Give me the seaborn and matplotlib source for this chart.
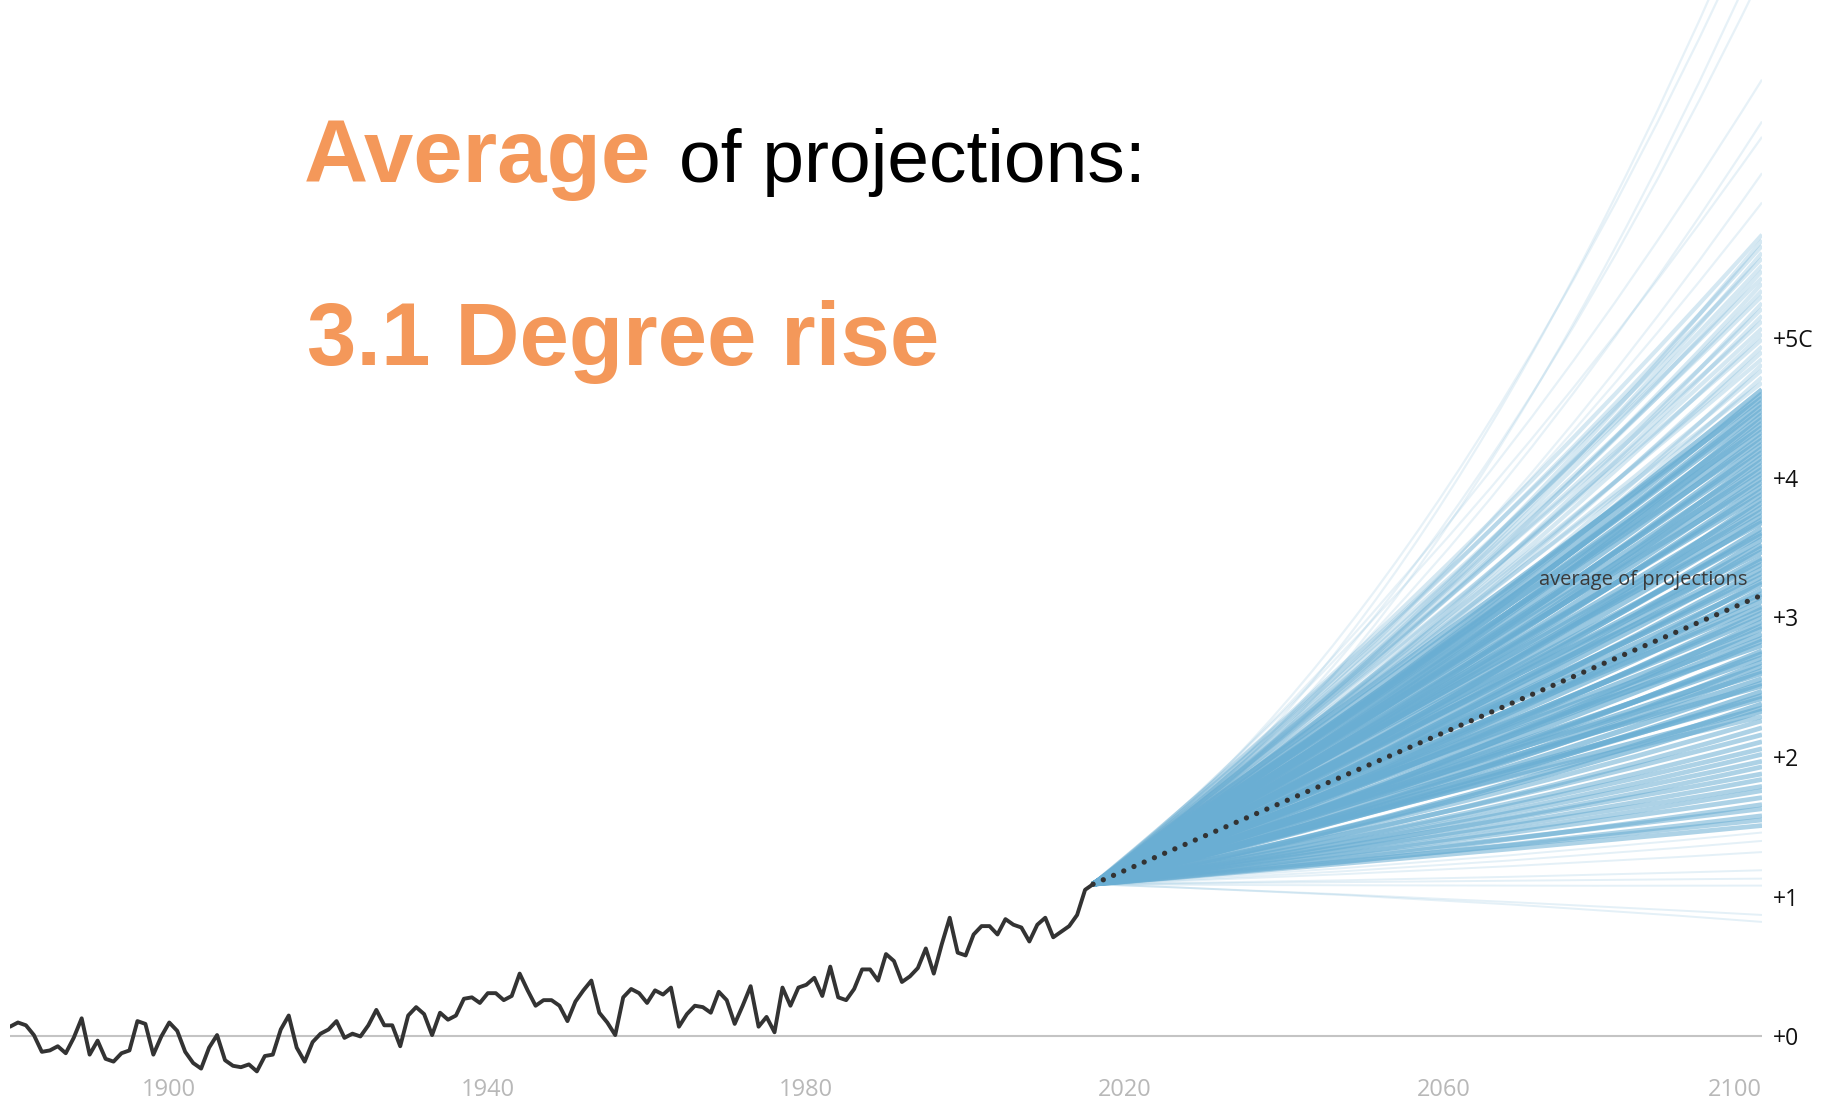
import matplotlib
matplotlib.use("Agg")
import matplotlib.pyplot as plt
from matplotlib.path import Path
from matplotlib.patches import PathPatch
import seaborn as sns

# observed temperature rise, one value a year from 1880 to 2016
hist_years = list(range(1880, 2017))
hist_temp = [
    0.07, 0.10, 0.08, 0.01, -0.11, -0.10, -0.07, -0.12, -0.01, 0.13,
    -0.13, -0.03, -0.16, -0.18, -0.12, -0.10, 0.11, 0.09, -0.13, 0.00,
    0.10, 0.04, -0.11, -0.19, -0.23, -0.08, 0.01, -0.17, -0.21, -0.22,
    -0.20, -0.25, -0.14, -0.13, 0.05, 0.15, -0.08, -0.18, -0.04, 0.02,
    0.05, 0.11, -0.01, 0.02, 0.00, 0.08, 0.19, 0.08, 0.08, -0.07,
    0.15, 0.21, 0.16, 0.01, 0.17, 0.12, 0.15, 0.27, 0.28, 0.24,
    0.31, 0.31, 0.26, 0.29, 0.45, 0.33, 0.22, 0.26, 0.26, 0.22,
    0.11, 0.25, 0.33, 0.40, 0.17, 0.10, 0.01, 0.28, 0.34, 0.31,
    0.24, 0.33, 0.30, 0.35, 0.07, 0.16, 0.22, 0.21, 0.17, 0.32,
    0.26, 0.09, 0.22, 0.36, 0.07, 0.14, 0.03, 0.35, 0.22, 0.35,
    0.37, 0.42, 0.29, 0.50, 0.28, 0.26, 0.34, 0.48, 0.48, 0.40,
    0.59, 0.54, 0.39, 0.43, 0.49, 0.63, 0.45, 0.66, 0.85, 0.60,
    0.58, 0.73, 0.79, 0.79, 0.73, 0.84, 0.80, 0.78, 0.68, 0.80,
    0.85, 0.71, 0.75, 0.79, 0.87, 1.05, 1.09,
]

# projections: value in 2100 and value around 2058 (estimated off the fan)
proj_end = [
    0.82, 0.87, 1.08, 1.13, 1.19, 1.32, 1.40, 1.46,
    1.51, 1.55, 1.58, 1.63, 1.66, 1.71, 1.76, 1.79, 1.84, 1.88,
    1.93, 1.97, 2.02, 2.06, 2.11, 2.16, 2.21, 2.26,
    2.29, 2.33, 2.35, 2.38, 2.42, 2.44, 2.47, 2.51, 2.53, 2.56,
    2.60, 2.62, 2.65, 2.68, 2.71, 2.74, 2.76, 2.80, 2.83, 2.85,
    2.88, 2.92, 2.94, 2.97, 3.00, 3.03, 3.06, 3.08, 3.12, 3.15,
    3.17, 3.20, 3.24, 3.26, 3.29, 3.32, 3.35, 3.38, 3.41, 3.43,
    3.47, 3.50, 3.52, 3.56, 3.59, 3.61, 3.64, 3.68, 3.70, 3.73,
    3.76, 3.79, 3.82, 3.85, 3.88, 3.91, 3.94, 3.97, 4.00, 4.03,
    4.06, 4.09, 4.12, 4.15, 4.18, 4.21, 4.24, 4.27, 4.30, 4.33,
    4.36, 4.39, 4.42, 4.45, 4.48, 4.51, 4.54, 4.57, 4.60, 4.63,
    4.68, 4.72, 4.77, 4.81, 4.85, 4.90, 4.94, 4.99, 5.03, 5.07,
    5.12, 5.16, 5.21, 5.25, 5.30, 5.34, 5.39, 5.43, 5.48, 5.52,
    5.57, 5.61, 5.66, 5.70, 5.74,
    5.97, 6.18, 6.44, 6.55, 6.85, 7.60, 7.80, 8.10, 8.30,
]
proj_mid = [
    0.98, 0.99, 1.08, 1.11, 1.13, 1.19, 1.22, 1.25,
    1.29, 1.31, 1.31, 1.35, 1.34, 1.38, 1.39, 1.42, 1.43, 1.46,
    1.46, 1.49, 1.50, 1.53, 1.54, 1.58, 1.58, 1.62,
    1.71, 1.64, 1.71, 1.65, 1.75, 1.73, 1.72, 1.83, 1.75, 1.80,
    1.86, 1.78, 1.85, 1.79, 1.89, 1.87, 1.85, 1.97, 1.90, 1.93,
    1.99, 1.92, 1.99, 1.92, 2.02, 2.01, 1.99, 2.09, 2.04, 2.08,
    2.13, 2.05, 2.13, 2.06, 2.16, 2.14, 2.13, 2.24, 2.17, 2.20,
    2.27, 2.19, 2.26, 2.20, 2.31, 2.28, 2.26, 2.38, 2.31, 2.35,
    2.40, 2.33, 2.40, 2.33, 2.45, 2.43, 2.41, 2.51, 2.44, 2.49,
    2.54, 2.47, 2.55, 2.48, 2.58, 2.56, 2.55, 2.65, 2.59, 2.64,
    2.69, 2.61, 2.68, 2.62, 2.72, 2.71, 2.70, 2.80, 2.73, 2.77,
    2.85, 2.73, 2.83, 2.74, 2.89, 2.86, 2.83, 2.96, 2.89, 2.95,
    3.02, 2.91, 3.01, 2.92, 3.07, 3.03, 3.01, 3.14, 3.07, 3.12,
    3.20, 3.08, 3.19, 3.10, 3.24,
    3.21, 3.20, 3.41, 3.32, 3.49, 3.50, 3.45, 3.72, 3.66,
]

mean_years = [2016, 2100]
mean_temp = [1.09, 3.16]

year_ticks = [1900, 1940, 1980, 2020, 2060, 2100]
temp_ticks = [0, 1, 2, 3, 4, 5]
temp_labels = ["+0", "+1", "+2", "+3", "+4", "+5C"]

sns.set_theme(style="white")
plt.rcParams["font.family"] = ["Open Sans", "DejaVu Sans"]

W, H = 1827, 1101
fig = plt.figure(figsize=(W / 100, H / 100), dpi=100)
ax = fig.add_axes([10 / W, 0, 1752 / W, 1])
ax.set_xlim(1880, 2100)
ax.set_ylim(-0.462, 7.42)

ax.axhline(0, color="#c4c4c4", lw=1.5, zorder=1)

# fan of projections
blue = "#6aaed3"
y0, t0 = hist_temp[-1], hist_years[-1]
for e, m in zip(proj_end, proj_mid):
    if e < 1.5:
        a, lw = 0.18, 1.4
    elif e < 2.3:
        a, lw = 0.55, 3.4
    elif e < 4.66:
        a, lw = 0.68, 3.8
    elif e < 5.8:
        a, lw = 0.28, 3.0
    else:
        a, lw = 0.16, 1.6
    ctrl = 2 * m - (y0 + e) / 2
    p = Path([(t0, y0), (2058, ctrl), (2100, e)],
             [Path.MOVETO, Path.CURVE3, Path.CURVE3])
    ax.add_patch(PathPatch(p, fill=False, edgecolor=blue, alpha=a, lw=lw,
                           capstyle="butt", zorder=2))

# average of projections, dotted
ax.plot(mean_years, mean_temp, color="#333333", lw=3.8,
        linestyle=(0, (0.01, 2.1)), dash_capstyle="round", zorder=4)
sns.lineplot(x=hist_years, y=hist_temp, ax=ax, color="#333333", lw=2.8, zorder=5)

ax.text(2098.2, 3.27, "average of projections", ha="right", va="center",
        fontsize=14.5, color="#3a3a3a", zorder=6)

for yr in year_ticks:
    ax.text(yr, -0.383, str(yr), ha="right" if yr == 2100 else "center",
            va="center", fontsize=17, color="#b8b8b8")

ax.yaxis.tick_right()
ax.set_yticks(temp_ticks, temp_labels)
ax.tick_params(axis="y", length=0, pad=8, labelsize=16.5, labelcolor="#111111")
ax.set_xticks([])
ax.set_xlabel("")
ax.set_ylabel("")
for s in ax.spines.values():
    s.set_visible(False)

# headline
orange = "#f4985a"
fig.text(304 / W, 1 - 182 / H, "Average", family="Liberation Sans",
         fontweight="bold", fontsize=64, color=orange, va="baseline")
fig.text(679 / W, 1 - 182 / H, "of projections:", family="Liberation Sans",
         fontsize=54, color="black", va="baseline")
fig.text(307 / W, 1 - 365 / H, "3.1 Degree rise", family="Liberation Sans",
         fontweight="bold", fontsize=64, color=orange, va="baseline")

fig.savefig("out.png", dpi=100)
